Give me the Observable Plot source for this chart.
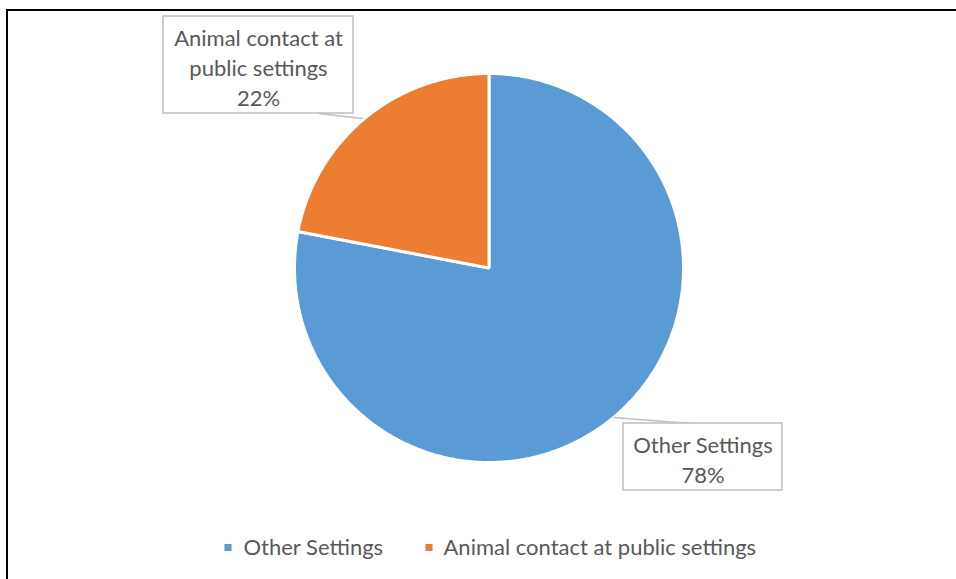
<!DOCTYPE html>
<html><head><meta charset="utf-8">
<script src="https://cdn.jsdelivr.net/npm/d3@7"></script>
<script src="https://cdn.jsdelivr.net/npm/@observablehq/plot@0.6"></script>
<style>
html,body{margin:0;padding:0;background:#fff;}
#wrap{position:relative;width:956px;height:579px;overflow:hidden;}
#frame{position:absolute;left:6px;top:9px;width:960px;height:600px;border-top:2.5px solid #000;border-left:2.5px solid #000;box-sizing:border-box;pointer-events:none;}
</style></head>
<body><div id="wrap"><div id="frame"></div></div>
<script>
const categories = ["Other Settings", "Animal contact at public settings"];
const values = [78, 22];
const labelTexts = ["Other Settings\n78%", "Animal contact at\npublic settings\n22%"];
const colors = ["#5B9BD5", "#ED7D31"];

const W = 956, H = 579, cx = 488.5, cy = 267.5, R = 194.5;
const X = px => (px - cx) / R, Y = py => (cy - py) / R;

const arcs = d3.pie().sort(null).value(d => d.value)(categories.map((name, i) => ({name, value: values[i]})));
const slicePts = [];
arcs.forEach(a => {
  slicePts.push({name: a.data.name, x: 0, y: 0});
  const n = Math.ceil((a.endAngle - a.startAngle) / (Math.PI / 360));
  for (let k = 0; k <= n; k++) {
    const t = a.startAngle + (a.endAngle - a.startAngle) * k / n;
    slicePts.push({name: a.data.name, x: Math.sin(t), y: Math.cos(t)});
  }
});

// label layout (pixel boxes, style only)
const labelBoxes = [
  {x1: 623, x2: 782, y1: 423, y2: 490, tx: 702.5, ty: 457.5, lx1: 690, ly1: 423, lx2: 613, ly2: 417},
  {x1: 163, x2: 353, y1: 16, y2: 113, tx: 258, ty: 66, lx1: 318, ly1: 113, lx2: 362, ly2: 118}
];
const labels = labelBoxes.map((b, i) => ({...b, text: labelTexts[i]}));
const legend = [
  {name: categories[0], sx: 227.5, tx: 243},
  {name: categories[1], sx: 428.5, tx: 443}
];
const legY = 547;

const chart = Plot.plot({
  width: W, height: H,
  marginLeft: cx - R, marginRight: W - (cx + R),
  marginTop: cy - R, marginBottom: H - (cy + R),
  x: {domain: [-1, 1], axis: null},
  y: {domain: [-1, 1], axis: null},
  color: {domain: categories, range: colors},
  style: {fontFamily: "Lato, 'Open Sans', sans-serif", background: "transparent", overflow: "visible"},
  marks: [
    Plot.line(slicePts, {x: "x", y: "y", z: "name", fill: "name", stroke: "#fff", strokeWidth: 3, strokeLinejoin: "miter", curve: "linear-closed"}),
    Plot.link(labels, {x1: d => X(d.lx1), y1: d => Y(d.ly1), x2: d => X(d.lx2), y2: d => Y(d.ly2), stroke: "#BFBFBF", strokeWidth: 1.5}),
    Plot.rect(labels, {x1: d => X(d.x1), x2: d => X(d.x2), y1: d => Y(d.y1), y2: d => Y(d.y2), fill: "#fff", stroke: "#BFBFBF", strokeWidth: 1.5}),
    Plot.text(labels, {x: d => X(d.tx), y: d => Y(d.ty), text: "text", fill: "#595959", fontSize: 22, lineHeight: 1.36, textAnchor: "middle"}),
    Plot.dot(legend, {x: d => X(d.sx), y: Y(legY), symbol: "square", r: 4, fill: "name", stroke: "none"}),
    Plot.text(legend, {x: d => X(d.tx), y: Y(legY), text: "name", fill: "#595959", fontSize: 22, textAnchor: "start"})
  ]
});
chart.style.position = "absolute";
chart.style.left = "0px";
chart.style.top = "0px";
document.getElementById("wrap").prepend(chart);
</script></body></html>
